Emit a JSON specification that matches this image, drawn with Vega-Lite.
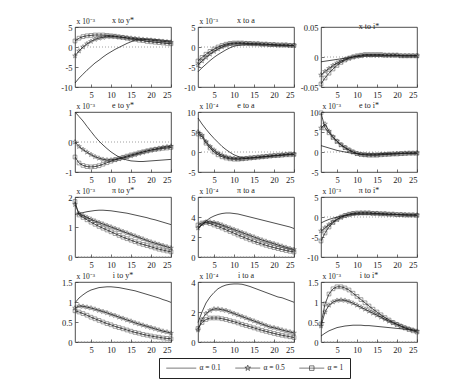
{
"$schema": "https://vega.github.io/schema/vega-lite/v6.json",
"padding": {"left": 60, "top": 16, "right": 5, "bottom": 3},
"background": "white",
"config": {
 "font": "Liberation Serif",
 "view": {"stroke": "#222", "strokeWidth": 0.8},
 "axis": {"labelFont": "Liberation Serif", "labelFontSize": 8.5, "labelColor": "#222", "domain": false, "grid": false, "tickSize": -3, "tickColor": "#333", "tickWidth": 0.7, "labelPadding": 6, "titleFont": "Liberation Serif", "titleFontSize": 7.5, "titleFontWeight": "normal", "titleColor": "#222"},
 "axisY": {"titleAngle": 0, "titleAlign": "left", "titleBaseline": "bottom", "titleX": 1, "titleY": -2},
 "title": {"font": "Liberation Serif", "fontSize": 8, "fontWeight": "normal", "color": "#222", "offset": 3, "dy": 11},
 "line": {"color": "#222", "strokeWidth": 0.8},
 "point": {"color": "#222", "strokeWidth": 0.6, "filled": false}
},
"data": {"values": [
{"p":"xy","t":1,"a":-9,"b":-2.2,"c":1.5},{"p":"xy","t":2,"a":-7.8,"b":-1.0,"c":2.2},{"p":"xy","t":3,"a":-6.8,"b":0.0,"c":2.6},{"p":"xy","t":4,"a":-5.8,"b":0.8,"c":2.8},{"p":"xy","t":5,"a":-4.9,"b":1.4,"c":2.9},{"p":"xy","t":6,"a":-4.0,"b":1.9,"c":3.0},{"p":"xy","t":7,"a":-3.3,"b":2.2,"c":3.0},{"p":"xy","t":8,"a":-2.5,"b":2.4,"c":3.0},{"p":"xy","t":9,"a":-1.8,"b":2.6,"c":2.9},{"p":"xy","t":10,"a":-1.2,"b":2.6,"c":2.8},{"p":"xy","t":11,"a":-0.6,"b":2.6,"c":2.7},{"p":"xy","t":12,"a":-0.1,"b":2.5,"c":2.5},{"p":"xy","t":13,"a":0.4,"b":2.4,"c":2.4},{"p":"xy","t":14,"a":0.9,"b":2.3,"c":2.2},{"p":"xy","t":15,"a":1.3,"b":2.2,"c":2.0},{"p":"xy","t":16,"a":1.7,"b":2.1,"c":1.9},{"p":"xy","t":17,"a":1.9,"b":2.0,"c":1.7},{"p":"xy","t":18,"a":2.0,"b":1.9,"c":1.6},{"p":"xy","t":19,"a":2.0,"b":1.8,"c":1.4},{"p":"xy","t":20,"a":2.0,"b":1.7,"c":1.3},{"p":"xy","t":21,"a":1.9,"b":1.6,"c":1.2},{"p":"xy","t":22,"a":1.8,"b":1.5,"c":1.1},{"p":"xy","t":23,"a":1.7,"b":1.4,"c":1.0},{"p":"xy","t":24,"a":1.6,"b":1.3,"c":0.9},{"p":"xy","t":25,"a":1.5,"b":1.2,"c":0.8},
{"p":"xa","t":1,"a":-6.2,"b":-4.5,"c":-3.5},{"p":"xa","t":2,"a":-5.2,"b":-3.5,"c":-2.6},{"p":"xa","t":3,"a":-4.3,"b":-2.6,"c":-1.8},{"p":"xa","t":4,"a":-3.4,"b":-1.8,"c":-1.1},{"p":"xa","t":5,"a":-2.6,"b":-1.1,"c":-0.5},{"p":"xa","t":6,"a":-1.9,"b":-0.5,"c":0.0},{"p":"xa","t":7,"a":-1.3,"b":0.0,"c":0.4},{"p":"xa","t":8,"a":-0.7,"b":0.4,"c":0.7},{"p":"xa","t":9,"a":-0.2,"b":0.7,"c":0.9},{"p":"xa","t":10,"a":0.2,"b":0.8,"c":1.0},{"p":"xa","t":11,"a":0.4,"b":0.9,"c":1.0},{"p":"xa","t":12,"a":0.5,"b":0.9,"c":1.0},{"p":"xa","t":13,"a":0.6,"b":0.9,"c":0.9},{"p":"xa","t":14,"a":0.6,"b":0.8,"c":0.9},{"p":"xa","t":15,"a":0.6,"b":0.8,"c":0.8},{"p":"xa","t":16,"a":0.6,"b":0.8,"c":0.8},{"p":"xa","t":17,"a":0.5,"b":0.7,"c":0.7},{"p":"xa","t":18,"a":0.5,"b":0.7,"c":0.7},{"p":"xa","t":19,"a":0.5,"b":0.6,"c":0.6},{"p":"xa","t":20,"a":0.4,"b":0.6,"c":0.6},{"p":"xa","t":21,"a":0.4,"b":0.5,"c":0.5},{"p":"xa","t":22,"a":0.4,"b":0.5,"c":0.5},{"p":"xa","t":23,"a":0.3,"b":0.5,"c":0.5},{"p":"xa","t":24,"a":0.3,"b":0.4,"c":0.4},{"p":"xa","t":25,"a":0.3,"b":0.4,"c":0.4},
{"p":"xi","t":1,"a":-0.008,"b":-0.03,"c":-0.045},{"p":"xi","t":2,"a":-0.007,"b":-0.024,"c":-0.035},{"p":"xi","t":3,"a":-0.006,"b":-0.019,"c":-0.027},{"p":"xi","t":4,"a":-0.005,"b":-0.014,"c":-0.02},{"p":"xi","t":5,"a":-0.004,"b":-0.01,"c":-0.014},{"p":"xi","t":6,"a":-0.003,"b":-0.007,"c":-0.009},{"p":"xi","t":7,"a":-0.002,"b":-0.004,"c":-0.005},{"p":"xi","t":8,"a":-0.001,"b":-0.002,"c":-0.002},{"p":"xi","t":9,"a":0.0,"b":0.0,"c":0.0},{"p":"xi","t":10,"a":0.001,"b":0.001,"c":0.002},{"p":"xi","t":11,"a":0.001,"b":0.002,"c":0.003},{"p":"xi","t":12,"a":0.002,"b":0.003,"c":0.004},{"p":"xi","t":13,"a":0.002,"b":0.003,"c":0.004},{"p":"xi","t":14,"a":0.002,"b":0.003,"c":0.004},{"p":"xi","t":15,"a":0.002,"b":0.003,"c":0.004},{"p":"xi","t":16,"a":0.002,"b":0.003,"c":0.004},{"p":"xi","t":17,"a":0.002,"b":0.003,"c":0.003},{"p":"xi","t":18,"a":0.002,"b":0.003,"c":0.003},{"p":"xi","t":19,"a":0.002,"b":0.003,"c":0.003},{"p":"xi","t":20,"a":0.002,"b":0.003,"c":0.003},{"p":"xi","t":21,"a":0.002,"b":0.002,"c":0.002},{"p":"xi","t":22,"a":0.002,"b":0.002,"c":0.002},{"p":"xi","t":23,"a":0.002,"b":0.002,"c":0.002},{"p":"xi","t":24,"a":0.002,"b":0.002,"c":0.002},{"p":"xi","t":25,"a":0.002,"b":0.002,"c":0.002},
{"p":"ey","t":1,"a":1.0,"b":0.0,"c":-0.5},{"p":"ey","t":2,"a":0.85,"b":-0.15,"c":-0.7},{"p":"ey","t":3,"a":0.7,"b":-0.25,"c":-0.78},{"p":"ey","t":4,"a":0.52,"b":-0.34,"c":-0.82},{"p":"ey","t":5,"a":0.35,"b":-0.42,"c":-0.83},{"p":"ey","t":6,"a":0.18,"b":-0.49,"c":-0.82},{"p":"ey","t":7,"a":0.03,"b":-0.54,"c":-0.79},{"p":"ey","t":8,"a":-0.1,"b":-0.58,"c":-0.74},{"p":"ey","t":9,"a":-0.22,"b":-0.6,"c":-0.69},{"p":"ey","t":10,"a":-0.33,"b":-0.6,"c":-0.64},{"p":"ey","t":11,"a":-0.42,"b":-0.59,"c":-0.59},{"p":"ey","t":12,"a":-0.5,"b":-0.56,"c":-0.55},{"p":"ey","t":13,"a":-0.56,"b":-0.53,"c":-0.51},{"p":"ey","t":14,"a":-0.6,"b":-0.5,"c":-0.47},{"p":"ey","t":15,"a":-0.63,"b":-0.46,"c":-0.43},{"p":"ey","t":16,"a":-0.64,"b":-0.42,"c":-0.4},{"p":"ey","t":17,"a":-0.65,"b":-0.38,"c":-0.36},{"p":"ey","t":18,"a":-0.65,"b":-0.34,"c":-0.33},{"p":"ey","t":19,"a":-0.64,"b":-0.3,"c":-0.3},{"p":"ey","t":20,"a":-0.63,"b":-0.27,"c":-0.27},{"p":"ey","t":21,"a":-0.62,"b":-0.24,"c":-0.25},{"p":"ey","t":22,"a":-0.61,"b":-0.21,"c":-0.23},{"p":"ey","t":23,"a":-0.6,"b":-0.18,"c":-0.21},{"p":"ey","t":24,"a":-0.59,"b":-0.16,"c":-0.2},{"p":"ey","t":25,"a":-0.58,"b":-0.14,"c":-0.18},
{"p":"ea","t":1,"a":8.5,"b":5.0,"c":4.5},{"p":"ea","t":2,"a":7.0,"b":4.2,"c":3.8},{"p":"ea","t":3,"a":5.7,"b":2.6,"c":2.2},{"p":"ea","t":4,"a":4.5,"b":1.4,"c":1.0},{"p":"ea","t":5,"a":3.4,"b":0.5,"c":0.0},{"p":"ea","t":6,"a":2.4,"b":-0.3,"c":-0.7},{"p":"ea","t":7,"a":1.4,"b":-0.8,"c":-1.2},{"p":"ea","t":8,"a":0.6,"b":-1.2,"c":-1.5},{"p":"ea","t":9,"a":-0.1,"b":-1.5,"c":-1.7},{"p":"ea","t":10,"a":-0.7,"b":-1.6,"c":-1.8},{"p":"ea","t":11,"a":-1.1,"b":-1.7,"c":-1.8},{"p":"ea","t":12,"a":-1.4,"b":-1.7,"c":-1.7},{"p":"ea","t":13,"a":-1.5,"b":-1.6,"c":-1.6},{"p":"ea","t":14,"a":-1.5,"b":-1.5,"c":-1.5},{"p":"ea","t":15,"a":-1.5,"b":-1.4,"c":-1.4},{"p":"ea","t":16,"a":-1.4,"b":-1.3,"c":-1.3},{"p":"ea","t":17,"a":-1.3,"b":-1.2,"c":-1.2},{"p":"ea","t":18,"a":-1.2,"b":-1.1,"c":-1.1},{"p":"ea","t":19,"a":-1.1,"b":-1.0,"c":-1.0},{"p":"ea","t":20,"a":-1.0,"b":-0.9,"c":-0.9},{"p":"ea","t":21,"a":-0.9,"b":-0.8,"c":-0.9},{"p":"ea","t":22,"a":-0.8,"b":-0.7,"c":-0.8},{"p":"ea","t":23,"a":-0.7,"b":-0.6,"c":-0.7},{"p":"ea","t":24,"a":-0.6,"b":-0.5,"c":-0.7},{"p":"ea","t":25,"a":-0.6,"b":-0.5,"c":-0.6},
{"p":"ei","t":1,"a":1.6,"b":6.0,"c":9.8},{"p":"ei","t":2,"a":1.3,"b":7.0,"c":6.0},{"p":"ei","t":3,"a":1.0,"b":5.2,"c":4.8},{"p":"ei","t":4,"a":0.7,"b":3.8,"c":3.6},{"p":"ei","t":5,"a":0.4,"b":2.7,"c":2.6},{"p":"ei","t":6,"a":0.2,"b":1.8,"c":1.8},{"p":"ei","t":7,"a":0.0,"b":1.1,"c":1.1},{"p":"ei","t":8,"a":-0.2,"b":0.5,"c":0.5},{"p":"ei","t":9,"a":-0.3,"b":0.0,"c":0.0},{"p":"ei","t":10,"a":-0.4,"b":-0.4,"c":-0.4},{"p":"ei","t":11,"a":-0.5,"b":-0.6,"c":-0.6},{"p":"ei","t":12,"a":-0.5,"b":-0.7,"c":-0.7},{"p":"ei","t":13,"a":-0.5,"b":-0.7,"c":-0.8},{"p":"ei","t":14,"a":-0.5,"b":-0.7,"c":-0.8},{"p":"ei","t":15,"a":-0.5,"b":-0.7,"c":-0.8},{"p":"ei","t":16,"a":-0.4,"b":-0.6,"c":-0.7},{"p":"ei","t":17,"a":-0.4,"b":-0.6,"c":-0.6},{"p":"ei","t":18,"a":-0.4,"b":-0.5,"c":-0.6},{"p":"ei","t":19,"a":-0.4,"b":-0.5,"c":-0.5},{"p":"ei","t":20,"a":-0.3,"b":-0.4,"c":-0.5},{"p":"ei","t":21,"a":-0.3,"b":-0.4,"c":-0.4},{"p":"ei","t":22,"a":-0.3,"b":-0.3,"c":-0.4},{"p":"ei","t":23,"a":-0.3,"b":-0.3,"c":-0.3},{"p":"ei","t":24,"a":-0.3,"b":-0.3,"c":-0.3},{"p":"ei","t":25,"a":-0.3,"b":-0.2,"c":-0.3},
{"p":"py","t":1,"a":1.42,"b":1.75,"c":1.85},{"p":"py","t":2,"a":1.45,"b":1.45,"c":1.4},{"p":"py","t":3,"a":1.48,"b":1.38,"c":1.32},{"p":"py","t":4,"a":1.51,"b":1.32,"c":1.24},{"p":"py","t":5,"a":1.53,"b":1.26,"c":1.16},{"p":"py","t":6,"a":1.55,"b":1.2,"c":1.09},{"p":"py","t":7,"a":1.56,"b":1.15,"c":1.02},{"p":"py","t":8,"a":1.56,"b":1.1,"c":0.96},{"p":"py","t":9,"a":1.55,"b":1.05,"c":0.9},{"p":"py","t":10,"a":1.54,"b":1.0,"c":0.84},{"p":"py","t":11,"a":1.52,"b":0.95,"c":0.78},{"p":"py","t":12,"a":1.5,"b":0.9,"c":0.72},{"p":"py","t":13,"a":1.48,"b":0.85,"c":0.66},{"p":"py","t":14,"a":1.46,"b":0.8,"c":0.61},{"p":"py","t":15,"a":1.43,"b":0.75,"c":0.56},{"p":"py","t":16,"a":1.4,"b":0.7,"c":0.51},{"p":"py","t":17,"a":1.37,"b":0.65,"c":0.46},{"p":"py","t":18,"a":1.34,"b":0.6,"c":0.42},{"p":"py","t":19,"a":1.31,"b":0.55,"c":0.38},{"p":"py","t":20,"a":1.27,"b":0.5,"c":0.34},{"p":"py","t":21,"a":1.24,"b":0.46,"c":0.3},{"p":"py","t":22,"a":1.2,"b":0.42,"c":0.26},{"p":"py","t":23,"a":1.16,"b":0.38,"c":0.23},{"p":"py","t":24,"a":1.12,"b":0.34,"c":0.2},{"p":"py","t":25,"a":1.08,"b":0.3,"c":0.17},
{"p":"pa","t":1,"a":2.8,"b":2.9,"c":3.2},{"p":"pa","t":2,"a":3.2,"b":3.3,"c":3.4},{"p":"pa","t":3,"a":3.6,"b":3.5,"c":3.45},{"p":"pa","t":4,"a":3.9,"b":3.5,"c":3.35},{"p":"pa","t":5,"a":4.1,"b":3.45,"c":3.2},{"p":"pa","t":6,"a":4.25,"b":3.35,"c":3.05},{"p":"pa","t":7,"a":4.35,"b":3.2,"c":2.9},{"p":"pa","t":8,"a":4.4,"b":3.05,"c":2.72},{"p":"pa","t":9,"a":4.4,"b":2.9,"c":2.55},{"p":"pa","t":10,"a":4.35,"b":2.75,"c":2.38},{"p":"pa","t":11,"a":4.3,"b":2.6,"c":2.2},{"p":"pa","t":12,"a":4.2,"b":2.45,"c":2.04},{"p":"pa","t":13,"a":4.1,"b":2.3,"c":1.88},{"p":"pa","t":14,"a":4.0,"b":2.15,"c":1.72},{"p":"pa","t":15,"a":3.9,"b":2.0,"c":1.57},{"p":"pa","t":16,"a":3.8,"b":1.85,"c":1.43},{"p":"pa","t":17,"a":3.7,"b":1.7,"c":1.3},{"p":"pa","t":18,"a":3.6,"b":1.57,"c":1.17},{"p":"pa","t":19,"a":3.5,"b":1.45,"c":1.05},{"p":"pa","t":20,"a":3.4,"b":1.33,"c":0.94},{"p":"pa","t":21,"a":3.3,"b":1.2,"c":0.84},{"p":"pa","t":22,"a":3.2,"b":1.08,"c":0.74},{"p":"pa","t":23,"a":3.1,"b":0.96,"c":0.65},{"p":"pa","t":24,"a":3.0,"b":0.85,"c":0.57},{"p":"pa","t":25,"a":2.85,"b":0.75,"c":0.5},
{"p":"pi","t":1,"a":-1.5,"b":-3.5,"c":-6.0},{"p":"pi","t":2,"a":-1.0,"b":-2.7,"c":-4.0},{"p":"pi","t":3,"a":-0.6,"b":-1.9,"c":-2.5},{"p":"pi","t":4,"a":-0.3,"b":-1.2,"c":-1.4},{"p":"pi","t":5,"a":0.0,"b":-0.6,"c":-0.6},{"p":"pi","t":6,"a":0.2,"b":-0.1,"c":0.0},{"p":"pi","t":7,"a":0.4,"b":0.3,"c":0.4},{"p":"pi","t":8,"a":0.5,"b":0.6,"c":0.7},{"p":"pi","t":9,"a":0.6,"b":0.8,"c":0.9},{"p":"pi","t":10,"a":0.7,"b":0.9,"c":1.0},{"p":"pi","t":11,"a":0.7,"b":1.0,"c":1.0},{"p":"pi","t":12,"a":0.7,"b":1.0,"c":1.0},{"p":"pi","t":13,"a":0.7,"b":1.0,"c":1.0},{"p":"pi","t":14,"a":0.7,"b":0.9,"c":0.9},{"p":"pi","t":15,"a":0.7,"b":0.9,"c":0.9},{"p":"pi","t":16,"a":0.7,"b":0.8,"c":0.8},{"p":"pi","t":17,"a":0.6,"b":0.8,"c":0.8},{"p":"pi","t":18,"a":0.6,"b":0.7,"c":0.7},{"p":"pi","t":19,"a":0.6,"b":0.7,"c":0.7},{"p":"pi","t":20,"a":0.6,"b":0.6,"c":0.6},{"p":"pi","t":21,"a":0.5,"b":0.6,"c":0.6},{"p":"pi","t":22,"a":0.5,"b":0.6,"c":0.5},{"p":"pi","t":23,"a":0.5,"b":0.5,"c":0.5},{"p":"pi","t":24,"a":0.5,"b":0.5,"c":0.5},{"p":"pi","t":25,"a":0.5,"b":0.5,"c":0.4},
{"p":"iy","t":1,"a":0.98,"b":0.85,"c":0.78},{"p":"iy","t":2,"a":1.1,"b":0.9,"c":0.75},{"p":"iy","t":3,"a":1.18,"b":0.89,"c":0.71},{"p":"iy","t":4,"a":1.25,"b":0.87,"c":0.67},{"p":"iy","t":5,"a":1.3,"b":0.85,"c":0.62},{"p":"iy","t":6,"a":1.33,"b":0.82,"c":0.58},{"p":"iy","t":7,"a":1.36,"b":0.79,"c":0.54},{"p":"iy","t":8,"a":1.37,"b":0.76,"c":0.5},{"p":"iy","t":9,"a":1.38,"b":0.73,"c":0.46},{"p":"iy","t":10,"a":1.38,"b":0.69,"c":0.43},{"p":"iy","t":11,"a":1.37,"b":0.66,"c":0.39},{"p":"iy","t":12,"a":1.36,"b":0.62,"c":0.36},{"p":"iy","t":13,"a":1.34,"b":0.59,"c":0.33},{"p":"iy","t":14,"a":1.32,"b":0.55,"c":0.3},{"p":"iy","t":15,"a":1.3,"b":0.52,"c":0.27},{"p":"iy","t":16,"a":1.28,"b":0.48,"c":0.24},{"p":"iy","t":17,"a":1.25,"b":0.45,"c":0.22},{"p":"iy","t":18,"a":1.22,"b":0.42,"c":0.19},{"p":"iy","t":19,"a":1.19,"b":0.39,"c":0.17},{"p":"iy","t":20,"a":1.16,"b":0.36,"c":0.15},{"p":"iy","t":21,"a":1.13,"b":0.33,"c":0.13},{"p":"iy","t":22,"a":1.1,"b":0.3,"c":0.12},{"p":"iy","t":23,"a":1.06,"b":0.27,"c":0.1},{"p":"iy","t":24,"a":1.03,"b":0.25,"c":0.09},{"p":"iy","t":25,"a":0.99,"b":0.22,"c":0.08},
{"p":"ia","t":1,"a":1.3,"b":0.8,"c":0.9},{"p":"ia","t":2,"a":2.0,"b":1.5,"c":1.3},{"p":"ia","t":3,"a":2.6,"b":1.9,"c":1.5},{"p":"ia","t":4,"a":3.0,"b":2.1,"c":1.6},{"p":"ia","t":5,"a":3.3,"b":2.2,"c":1.6},{"p":"ia","t":6,"a":3.55,"b":2.2,"c":1.6},{"p":"ia","t":7,"a":3.7,"b":2.15,"c":1.55},{"p":"ia","t":8,"a":3.8,"b":2.1,"c":1.5},{"p":"ia","t":9,"a":3.85,"b":2.0,"c":1.42},{"p":"ia","t":10,"a":3.87,"b":1.9,"c":1.35},{"p":"ia","t":11,"a":3.87,"b":1.8,"c":1.27},{"p":"ia","t":12,"a":3.85,"b":1.7,"c":1.18},{"p":"ia","t":13,"a":3.78,"b":1.6,"c":1.1},{"p":"ia","t":14,"a":3.7,"b":1.5,"c":1.02},{"p":"ia","t":15,"a":3.6,"b":1.4,"c":0.94},{"p":"ia","t":16,"a":3.5,"b":1.3,"c":0.86},{"p":"ia","t":17,"a":3.4,"b":1.2,"c":0.78},{"p":"ia","t":18,"a":3.3,"b":1.1,"c":0.71},{"p":"ia","t":19,"a":3.2,"b":1.0,"c":0.64},{"p":"ia","t":20,"a":3.1,"b":0.95,"c":0.57},{"p":"ia","t":21,"a":3.0,"b":0.88,"c":0.51},{"p":"ia","t":22,"a":2.95,"b":0.8,"c":0.45},{"p":"ia","t":23,"a":2.85,"b":0.73,"c":0.4},{"p":"ia","t":24,"a":2.75,"b":0.67,"c":0.35},{"p":"ia","t":25,"a":2.65,"b":0.6,"c":0.3},
{"p":"ii","t":1,"a":0.15,"b":0.4,"c":0.45},{"p":"ii","t":2,"a":0.22,"b":0.75,"c":0.95},{"p":"ii","t":3,"a":0.28,"b":0.92,"c":1.2},{"p":"ii","t":4,"a":0.32,"b":1.0,"c":1.33},{"p":"ii","t":5,"a":0.36,"b":1.04,"c":1.38},{"p":"ii","t":6,"a":0.38,"b":1.05,"c":1.38},{"p":"ii","t":7,"a":0.4,"b":1.04,"c":1.35},{"p":"ii","t":8,"a":0.41,"b":1.01,"c":1.3},{"p":"ii","t":9,"a":0.42,"b":0.97,"c":1.22},{"p":"ii","t":10,"a":0.42,"b":0.92,"c":1.14},{"p":"ii","t":11,"a":0.42,"b":0.87,"c":1.06},{"p":"ii","t":12,"a":0.41,"b":0.82,"c":0.98},{"p":"ii","t":13,"a":0.41,"b":0.77,"c":0.9},{"p":"ii","t":14,"a":0.4,"b":0.72,"c":0.82},{"p":"ii","t":15,"a":0.39,"b":0.67,"c":0.75},{"p":"ii","t":16,"a":0.38,"b":0.62,"c":0.68},{"p":"ii","t":17,"a":0.37,"b":0.57,"c":0.61},{"p":"ii","t":18,"a":0.36,"b":0.52,"c":0.55},{"p":"ii","t":19,"a":0.35,"b":0.48,"c":0.49},{"p":"ii","t":20,"a":0.34,"b":0.44,"c":0.44},{"p":"ii","t":21,"a":0.33,"b":0.4,"c":0.39},{"p":"ii","t":22,"a":0.32,"b":0.36,"c":0.35},{"p":"ii","t":23,"a":0.31,"b":0.33,"c":0.31},{"p":"ii","t":24,"a":0.3,"b":0.3,"c":0.28},{"p":"ii","t":25,"a":0.29,"b":0.27,"c":0.25}
]},
"columns": 3,
"bounds": "flush",
"spacing": {"row": 25, "column": 27},
"concat": [
{"title": "x to y*", "width": 96, "height": 60, "transform": [{"filter": "datum.p=='xy'"}, {"fold": ["a","b","c"], "as": ["s","v"]}],
 "encoding": {"x": {"field": "t", "type": "quantitative", "scale": {"domain": [1,25], "nice": false}, "axis": {"values": [5,10,15,20,25], "title": null, "labelExpr": "''+datum.value"}}, "y": {"field": "v", "type": "quantitative", "scale": {"domain": [-10,5], "nice": false}, "axis": {"values": [-10,-5,0,5], "title": "x 10⁻³", "labelExpr": "''+datum.value"}}},
 "layer": [
  {"transform": [{"filter": "datum.t==1&&datum.s=='a'"}], "mark": {"type": "rule", "color": "#888", "strokeDash": [1,2], "strokeWidth": 0.8}, "encoding": {"x": {"datum": 1}, "x2": {"datum": 25}, "y": {"datum": 0}}},
  {"mark": {"type": "line"}, "encoding": {"detail": {"field": "s"}}},
  {"transform": [{"filter": "datum.s=='b'"}], "mark": {"type": "point", "shape": "M0,-1L0.225,-0.309L0.951,-0.309L0.363,0.118L0.588,0.809L0,0.382L-0.588,0.809L-0.363,0.118L-0.951,-0.309L-0.225,-0.309Z", "size": 24}},
  {"transform": [{"filter": "datum.s=='c'"}], "mark": {"type": "point", "shape": "square", "size": 14}}
 ]},
{"title": "x to a", "width": 96, "height": 60, "transform": [{"filter": "datum.p=='xa'"}, {"fold": ["a","b","c"], "as": ["s","v"]}],
 "encoding": {"x": {"field": "t", "type": "quantitative", "scale": {"domain": [1,25], "nice": false}, "axis": {"values": [5,10,15,20,25], "title": null, "labelExpr": "''+datum.value"}}, "y": {"field": "v", "type": "quantitative", "scale": {"domain": [-10,5], "nice": false}, "axis": {"values": [-10,-5,0,5], "title": "x 10⁻³", "labelExpr": "''+datum.value"}}},
 "layer": [
  {"transform": [{"filter": "datum.t==1&&datum.s=='a'"}], "mark": {"type": "rule", "color": "#888", "strokeDash": [1,2], "strokeWidth": 0.8}, "encoding": {"x": {"datum": 1}, "x2": {"datum": 25}, "y": {"datum": 0}}},
  {"mark": {"type": "line"}, "encoding": {"detail": {"field": "s"}}},
  {"transform": [{"filter": "datum.s=='b'"}], "mark": {"type": "point", "shape": "M0,-1L0.225,-0.309L0.951,-0.309L0.363,0.118L0.588,0.809L0,0.382L-0.588,0.809L-0.363,0.118L-0.951,-0.309L-0.225,-0.309Z", "size": 24}},
  {"transform": [{"filter": "datum.s=='c'"}], "mark": {"type": "point", "shape": "square", "size": 14}}
 ]},
{"title": "x to i*", "width": 96, "height": 60, "transform": [{"filter": "datum.p=='xi'"}, {"fold": ["a","b","c"], "as": ["s","v"]}],
 "encoding": {"x": {"field": "t", "type": "quantitative", "scale": {"domain": [1,25], "nice": false}, "axis": {"values": [5,10,15,20,25], "title": null, "labelExpr": "''+datum.value"}}, "y": {"field": "v", "type": "quantitative", "scale": {"domain": [-0.05,0.05], "nice": false}, "axis": {"values": [-0.05,0,0.05], "title": null, "labelExpr": "''+datum.value"}}},
 "layer": [
  {"transform": [{"filter": "datum.t==1&&datum.s=='a'"}], "mark": {"type": "rule", "color": "#888", "strokeDash": [1,2], "strokeWidth": 0.8}, "encoding": {"x": {"datum": 1}, "x2": {"datum": 25}, "y": {"datum": 0}}},
  {"mark": {"type": "line"}, "encoding": {"detail": {"field": "s"}}},
  {"transform": [{"filter": "datum.s=='b'"}], "mark": {"type": "point", "shape": "M0,-1L0.225,-0.309L0.951,-0.309L0.363,0.118L0.588,0.809L0,0.382L-0.588,0.809L-0.363,0.118L-0.951,-0.309L-0.225,-0.309Z", "size": 24}},
  {"transform": [{"filter": "datum.s=='c'"}], "mark": {"type": "point", "shape": "square", "size": 14}}
 ]},
{"title": "e to y*", "width": 96, "height": 60, "transform": [{"filter": "datum.p=='ey'"}, {"fold": ["a","b","c"], "as": ["s","v"]}],
 "encoding": {"x": {"field": "t", "type": "quantitative", "scale": {"domain": [1,25], "nice": false}, "axis": {"values": [5,10,15,20,25], "title": null, "labelExpr": "''+datum.value"}}, "y": {"field": "v", "type": "quantitative", "scale": {"domain": [-1,1], "nice": false}, "axis": {"values": [-1,0,1], "title": "x 10⁻³", "labelExpr": "''+datum.value"}}},
 "layer": [
  {"transform": [{"filter": "datum.t==1&&datum.s=='a'"}], "mark": {"type": "rule", "color": "#888", "strokeDash": [1,2], "strokeWidth": 0.8}, "encoding": {"x": {"datum": 1}, "x2": {"datum": 25}, "y": {"datum": 0}}},
  {"mark": {"type": "line"}, "encoding": {"detail": {"field": "s"}}},
  {"transform": [{"filter": "datum.s=='b'"}], "mark": {"type": "point", "shape": "M0,-1L0.225,-0.309L0.951,-0.309L0.363,0.118L0.588,0.809L0,0.382L-0.588,0.809L-0.363,0.118L-0.951,-0.309L-0.225,-0.309Z", "size": 24}},
  {"transform": [{"filter": "datum.s=='c'"}], "mark": {"type": "point", "shape": "square", "size": 14}}
 ]},
{"title": "e to a", "width": 96, "height": 60, "transform": [{"filter": "datum.p=='ea'"}, {"fold": ["a","b","c"], "as": ["s","v"]}],
 "encoding": {"x": {"field": "t", "type": "quantitative", "scale": {"domain": [1,25], "nice": false}, "axis": {"values": [5,10,15,20,25], "title": null, "labelExpr": "''+datum.value"}}, "y": {"field": "v", "type": "quantitative", "scale": {"domain": [-5,10], "nice": false}, "axis": {"values": [-5,0,5,10], "title": "x 10⁻⁴", "labelExpr": "''+datum.value"}}},
 "layer": [
  {"transform": [{"filter": "datum.t==1&&datum.s=='a'"}], "mark": {"type": "rule", "color": "#888", "strokeDash": [1,2], "strokeWidth": 0.8}, "encoding": {"x": {"datum": 1}, "x2": {"datum": 25}, "y": {"datum": 0}}},
  {"mark": {"type": "line"}, "encoding": {"detail": {"field": "s"}}},
  {"transform": [{"filter": "datum.s=='b'"}], "mark": {"type": "point", "shape": "M0,-1L0.225,-0.309L0.951,-0.309L0.363,0.118L0.588,0.809L0,0.382L-0.588,0.809L-0.363,0.118L-0.951,-0.309L-0.225,-0.309Z", "size": 24}},
  {"transform": [{"filter": "datum.s=='c'"}], "mark": {"type": "point", "shape": "square", "size": 14}}
 ]},
{"title": "e to i*", "width": 96, "height": 60, "transform": [{"filter": "datum.p=='ei'"}, {"fold": ["a","b","c"], "as": ["s","v"]}],
 "encoding": {"x": {"field": "t", "type": "quantitative", "scale": {"domain": [1,25], "nice": false}, "axis": {"values": [5,10,15,20,25], "title": null, "labelExpr": "''+datum.value"}}, "y": {"field": "v", "type": "quantitative", "scale": {"domain": [-5,10], "nice": false}, "axis": {"values": [-5,0,5,10], "title": "x 10⁻³", "labelExpr": "''+datum.value"}}},
 "layer": [
  {"transform": [{"filter": "datum.t==1&&datum.s=='a'"}], "mark": {"type": "rule", "color": "#888", "strokeDash": [1,2], "strokeWidth": 0.8}, "encoding": {"x": {"datum": 1}, "x2": {"datum": 25}, "y": {"datum": 0}}},
  {"mark": {"type": "line"}, "encoding": {"detail": {"field": "s"}}},
  {"transform": [{"filter": "datum.s=='b'"}], "mark": {"type": "point", "shape": "M0,-1L0.225,-0.309L0.951,-0.309L0.363,0.118L0.588,0.809L0,0.382L-0.588,0.809L-0.363,0.118L-0.951,-0.309L-0.225,-0.309Z", "size": 24}},
  {"transform": [{"filter": "datum.s=='c'"}], "mark": {"type": "point", "shape": "square", "size": 14}}
 ]},
{"title": "π to y*", "width": 96, "height": 60, "transform": [{"filter": "datum.p=='py'"}, {"fold": ["a","b","c"], "as": ["s","v"]}],
 "encoding": {"x": {"field": "t", "type": "quantitative", "scale": {"domain": [1,25], "nice": false}, "axis": {"values": [5,10,15,20,25], "title": null, "labelExpr": "''+datum.value"}}, "y": {"field": "v", "type": "quantitative", "scale": {"domain": [0,2], "nice": false}, "axis": {"values": [0,1,2], "title": "x 10⁻³", "labelExpr": "''+datum.value"}}},
 "layer": [
  {"transform": [{"filter": "datum.t==1&&datum.s=='a'"}], "mark": {"type": "rule", "color": "#888", "strokeDash": [1,2], "strokeWidth": 0.8}, "encoding": {"x": {"datum": 1}, "x2": {"datum": 25}, "y": {"datum": 0}}},
  {"mark": {"type": "line"}, "encoding": {"detail": {"field": "s"}}},
  {"transform": [{"filter": "datum.s=='b'"}], "mark": {"type": "point", "shape": "M0,-1L0.225,-0.309L0.951,-0.309L0.363,0.118L0.588,0.809L0,0.382L-0.588,0.809L-0.363,0.118L-0.951,-0.309L-0.225,-0.309Z", "size": 24}},
  {"transform": [{"filter": "datum.s=='c'"}], "mark": {"type": "point", "shape": "square", "size": 14}}
 ]},
{"title": "π to a", "width": 96, "height": 60, "transform": [{"filter": "datum.p=='pa'"}, {"fold": ["a","b","c"], "as": ["s","v"]}],
 "encoding": {"x": {"field": "t", "type": "quantitative", "scale": {"domain": [1,25], "nice": false}, "axis": {"values": [5,10,15,20,25], "title": null, "labelExpr": "''+datum.value"}}, "y": {"field": "v", "type": "quantitative", "scale": {"domain": [0,6], "nice": false}, "axis": {"values": [0,2,4,6], "title": "x 10⁻⁴", "labelExpr": "''+datum.value"}}},
 "layer": [
  {"transform": [{"filter": "datum.t==1&&datum.s=='a'"}], "mark": {"type": "rule", "color": "#888", "strokeDash": [1,2], "strokeWidth": 0.8}, "encoding": {"x": {"datum": 1}, "x2": {"datum": 25}, "y": {"datum": 0}}},
  {"mark": {"type": "line"}, "encoding": {"detail": {"field": "s"}}},
  {"transform": [{"filter": "datum.s=='b'"}], "mark": {"type": "point", "shape": "M0,-1L0.225,-0.309L0.951,-0.309L0.363,0.118L0.588,0.809L0,0.382L-0.588,0.809L-0.363,0.118L-0.951,-0.309L-0.225,-0.309Z", "size": 24}},
  {"transform": [{"filter": "datum.s=='c'"}], "mark": {"type": "point", "shape": "square", "size": 14}}
 ]},
{"title": "π to i*", "width": 96, "height": 60, "transform": [{"filter": "datum.p=='pi'"}, {"fold": ["a","b","c"], "as": ["s","v"]}],
 "encoding": {"x": {"field": "t", "type": "quantitative", "scale": {"domain": [1,25], "nice": false}, "axis": {"values": [5,10,15,20,25], "title": null, "labelExpr": "''+datum.value"}}, "y": {"field": "v", "type": "quantitative", "scale": {"domain": [-10,5], "nice": false}, "axis": {"values": [-10,-5,0,5], "title": "x 10⁻³", "labelExpr": "''+datum.value"}}},
 "layer": [
  {"transform": [{"filter": "datum.t==1&&datum.s=='a'"}], "mark": {"type": "rule", "color": "#888", "strokeDash": [1,2], "strokeWidth": 0.8}, "encoding": {"x": {"datum": 1}, "x2": {"datum": 25}, "y": {"datum": 0}}},
  {"mark": {"type": "line"}, "encoding": {"detail": {"field": "s"}}},
  {"transform": [{"filter": "datum.s=='b'"}], "mark": {"type": "point", "shape": "M0,-1L0.225,-0.309L0.951,-0.309L0.363,0.118L0.588,0.809L0,0.382L-0.588,0.809L-0.363,0.118L-0.951,-0.309L-0.225,-0.309Z", "size": 24}},
  {"transform": [{"filter": "datum.s=='c'"}], "mark": {"type": "point", "shape": "square", "size": 14}}
 ]},
{"title": "i to y*", "width": 96, "height": 60, "transform": [{"filter": "datum.p=='iy'"}, {"fold": ["a","b","c"], "as": ["s","v"]}],
 "encoding": {"x": {"field": "t", "type": "quantitative", "scale": {"domain": [1,25], "nice": false}, "axis": {"values": [5,10,15,20,25], "title": null, "labelExpr": "''+datum.value"}}, "y": {"field": "v", "type": "quantitative", "scale": {"domain": [0,1.5], "nice": false}, "axis": {"values": [0,0.5,1,1.5], "title": "x 10⁻³", "labelExpr": "''+datum.value"}}},
 "layer": [
  {"transform": [{"filter": "datum.t==1&&datum.s=='a'"}], "mark": {"type": "rule", "color": "#888", "strokeDash": [1,2], "strokeWidth": 0.8}, "encoding": {"x": {"datum": 1}, "x2": {"datum": 25}, "y": {"datum": 0}}},
  {"mark": {"type": "line"}, "encoding": {"detail": {"field": "s"}}},
  {"transform": [{"filter": "datum.s=='b'"}], "mark": {"type": "point", "shape": "M0,-1L0.225,-0.309L0.951,-0.309L0.363,0.118L0.588,0.809L0,0.382L-0.588,0.809L-0.363,0.118L-0.951,-0.309L-0.225,-0.309Z", "size": 24}},
  {"transform": [{"filter": "datum.s=='c'"}], "mark": {"type": "point", "shape": "square", "size": 14}}
 ]},
{"title": "i to a", "width": 96, "height": 60, "transform": [{"filter": "datum.p=='ia'"}, {"fold": ["a","b","c"], "as": ["s","v"]}],
 "encoding": {"x": {"field": "t", "type": "quantitative", "scale": {"domain": [1,25], "nice": false}, "axis": {"values": [5,10,15,20,25], "title": null, "labelExpr": "''+datum.value"}}, "y": {"field": "v", "type": "quantitative", "scale": {"domain": [0,4], "nice": false}, "axis": {"values": [0,2,4], "title": "x 10⁻⁴", "labelExpr": "''+datum.value"}}},
 "layer": [
  {"transform": [{"filter": "datum.t==1&&datum.s=='a'"}], "mark": {"type": "rule", "color": "#888", "strokeDash": [1,2], "strokeWidth": 0.8}, "encoding": {"x": {"datum": 1}, "x2": {"datum": 25}, "y": {"datum": 0}}},
  {"mark": {"type": "line"}, "encoding": {"detail": {"field": "s"}}},
  {"transform": [{"filter": "datum.s=='b'"}], "mark": {"type": "point", "shape": "M0,-1L0.225,-0.309L0.951,-0.309L0.363,0.118L0.588,0.809L0,0.382L-0.588,0.809L-0.363,0.118L-0.951,-0.309L-0.225,-0.309Z", "size": 24}},
  {"transform": [{"filter": "datum.s=='c'"}], "mark": {"type": "point", "shape": "square", "size": 14}},
  {"transform": [{"filter": "datum.t==1"}], "mark": {"type": "point", "opacity": 0},
   "encoding": {"shape": {"field": "s", "type": "nominal", "scale": {"domain": ["a","b","c"], "range": ["M-7,0L5,0", "M-5,0L5,0M0,-1.2L0.27,-0.37L1.14,-0.37L0.44,0.14L0.71,0.97L0,0.46L-0.71,0.97L-0.44,0.14L-1.14,-0.37L-0.27,-0.37Z", "M-5,0L5,0M-0.9,-0.9L0.9,-0.9L0.9,0.9L-0.9,0.9Z"]},
    "legend": {"title": null, "orient": "none", "legendX": 84, "legendY": 331, "direction": "horizontal", "labelExpr": "{'a':'α = 0.1','b':'α = 0.5','c':'α = 1'}[datum.value]", "symbolOpacity": 1, "symbolStrokeColor": "#222", "symbolFillColor": "white", "symbolSize": 25, "symbolStrokeWidth": 0.7, "symbolOffset": 15, "labelOffset": 12, "columnPadding": 8, "strokeColor": "#222", "padding": 6, "labelFont": "Liberation Serif", "labelFontSize": 7.5, "labelColor": "#222"}}}}
 ]},
{"title": "i to i*", "width": 96, "height": 60, "transform": [{"filter": "datum.p=='ii'"}, {"fold": ["a","b","c"], "as": ["s","v"]}],
 "encoding": {"x": {"field": "t", "type": "quantitative", "scale": {"domain": [1,25], "nice": false}, "axis": {"values": [5,10,15,20,25], "title": null, "labelExpr": "''+datum.value"}}, "y": {"field": "v", "type": "quantitative", "scale": {"domain": [0,1.5], "nice": false}, "axis": {"values": [0,0.5,1,1.5], "title": "x 10⁻³", "labelExpr": "''+datum.value"}}},
 "layer": [
  {"transform": [{"filter": "datum.t==1&&datum.s=='a'"}], "mark": {"type": "rule", "color": "#888", "strokeDash": [1,2], "strokeWidth": 0.8}, "encoding": {"x": {"datum": 1}, "x2": {"datum": 25}, "y": {"datum": 0}}},
  {"mark": {"type": "line"}, "encoding": {"detail": {"field": "s"}}},
  {"transform": [{"filter": "datum.s=='b'"}], "mark": {"type": "point", "shape": "M0,-1L0.225,-0.309L0.951,-0.309L0.363,0.118L0.588,0.809L0,0.382L-0.588,0.809L-0.363,0.118L-0.951,-0.309L-0.225,-0.309Z", "size": 24}},
  {"transform": [{"filter": "datum.s=='c'"}], "mark": {"type": "point", "shape": "square", "size": 14}}
 ]}
]
}
